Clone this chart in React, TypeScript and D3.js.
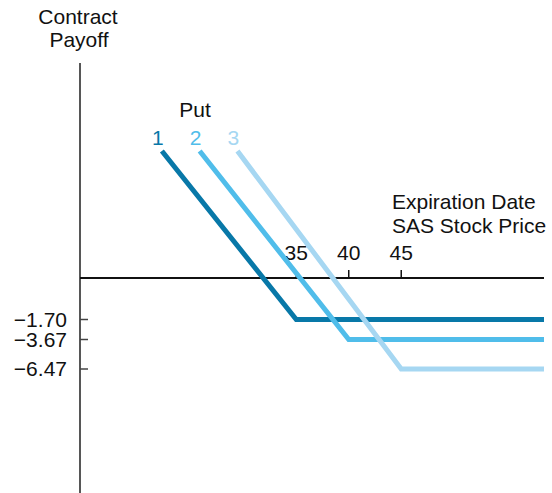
import React, { useEffect, useRef } from 'react';
import * as d3 from 'd3';

// put contracts (schematic payoff diagram)
const putLabels = ['1', '2', '3'];
const strikes = [35, 40, 45];
const premiums = [1.70, 3.67, 6.47];
const startPrices = [22.2, 25.8, 29.4];
const startPayoff = 5.2;
const endPrice = 58.6;
const colors = ['#0878a8', '#50bdea', '#a6d7f2'];

const yTickLabels = ['\u22121.70', '\u22123.67', '\u22126.47'];

const App: React.FC = () => {
  const svgRef = useRef<SVGSVGElement | null>(null);

  useEffect(() => {
    if (!svgRef.current) return;

    const width = 552;
    const height = 493;
    const font = '"Liberation Sans", Arial, Helvetica, sans-serif';
    const fs = 21;

    const svg = d3
      .select(svgRef.current)
      .attr('width', width)
      .attr('height', height);
    svg.selectAll('*').remove();

    const xScale = d3.scaleLinear().domain([14.4, endPrice]).range([80, 544]);

    // the drawing is schematic: y positions follow the tick marks, not a single linear scale
    const yScale = d3
      .scaleLinear()
      .domain([0, -premiums[0], -premiums[1], -premiums[2]])
      .range([278, 319.5, 339.5, 369]);

    // y axis
    svg
      .append('line')
      .attr('x1', xScale(14.4))
      .attr('x2', xScale(14.4))
      .attr('y1', 63)
      .attr('y2', height)
      .attr('stroke', '#444')
      .attr('stroke-width', 1.8);

    // y ticks and labels
    premiums.forEach((p, i) => {
      svg
        .append('line')
        .attr('x1', xScale(14.4))
        .attr('x2', xScale(14.4) + 8)
        .attr('y1', yScale(-p))
        .attr('y2', yScale(-p))
        .attr('stroke', '#444')
        .attr('stroke-width', 1.5);
      svg
        .append('text')
        .attr('x', 67)
        .attr('y', yScale(-p))
        .attr('dy', '0.35em')
        .attr('text-anchor', 'end')
        .attr('font-family', font)
        .attr('font-size', fs)
        .attr('fill', '#111')
        .text(yTickLabels[i]);
    });

    // x axis
    svg
      .append('line')
      .attr('x1', xScale(14.4))
      .attr('x2', xScale(endPrice))
      .attr('y1', yScale(0))
      .attr('y2', yScale(0))
      .attr('stroke', '#111')
      .attr('stroke-width', 1.8);

    strikes.forEach((k) => {
      svg
        .append('line')
        .attr('x1', xScale(k))
        .attr('x2', xScale(k))
        .attr('y1', yScale(0))
        .attr('y2', yScale(0) - 8)
        .attr('stroke', '#111')
        .attr('stroke-width', 1.5);
      svg
        .append('text')
        .attr('x', xScale(k))
        .attr('y', 260)
        .attr('text-anchor', 'middle')
        .attr('font-family', font)
        .attr('font-size', fs)
        .attr('fill', '#111')
        .text(String(k));
    });

    // axis titles
    const title = svg
      .append('text')
      .attr('text-anchor', 'middle')
      .attr('font-family', font)
      .attr('font-size', fs)
      .attr('fill', '#111');
    title.append('tspan').attr('x', 78).attr('y', 24).text('Contract');
    title.append('tspan').attr('x', 79).attr('y', 47).text('Payoff');

    const xTitle = svg
      .append('text')
      .attr('text-anchor', 'start')
      .attr('font-family', font)
      .attr('font-size', fs)
      .attr('fill', '#111');
    xTitle.append('tspan').attr('x', 392).attr('y', 209).text('Expiration Date');
    xTitle.append('tspan').attr('x', 392).attr('y', 233).text('SAS Stock Price');

    // payoff lines
    const line = d3
      .line<[number, number]>()
      .x((d) => xScale(d[0]))
      .y((d) => yScale(d[1]));

    strikes.forEach((k, i) => {
      const pts: [number, number][] = [
        [startPrices[i], startPayoff],
        [k, -premiums[i]],
        [endPrice, -premiums[i]],
      ];
      svg
        .append('path')
        .attr('d', line(pts))
        .attr('fill', 'none')
        .attr('stroke', colors[i])
        .attr('stroke-width', 5)
        .attr('stroke-linejoin', 'miter');

      svg
        .append('text')
        .attr('x', xScale(startPrices[i]) - 4)
        .attr('y', 145)
        .attr('text-anchor', 'middle')
        .attr('font-family', font)
        .attr('font-size', fs)
        .attr('fill', colors[i])
        .text(putLabels[i]);
    });

    svg
      .append('text')
      .attr('x', 195)
      .attr('y', 117)
      .attr('text-anchor', 'middle')
      .attr('font-family', font)
      .attr('font-size', fs)
      .attr('fill', '#111')
      .text('Put');
  }, []);

  return (
    <div>
      <svg ref={svgRef} style={{ display: 'block', position: 'absolute', left: 0, top: 0 }}></svg>
    </div>
  );
};

export default App;
